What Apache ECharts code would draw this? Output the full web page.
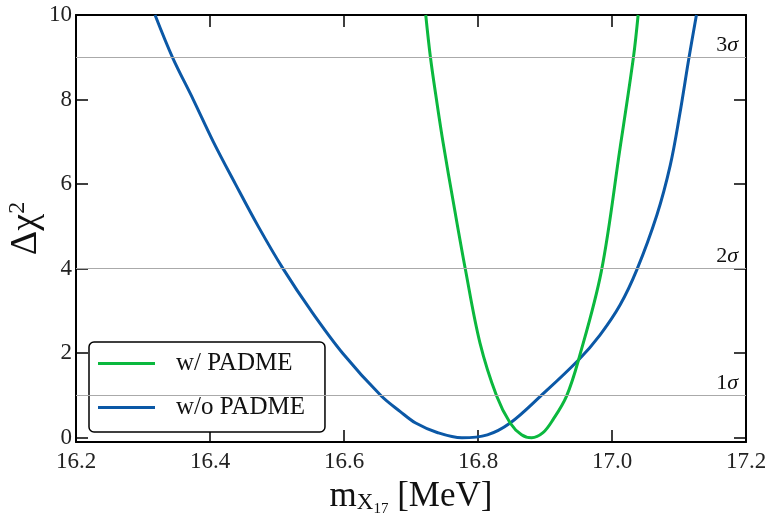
<!DOCTYPE html>
<html>
<head>
<meta charset="utf-8">
<script src="https://cdn.jsdelivr.net/npm/echarts@6/dist/echarts.min.js"></script>
<style>
html,body{margin:0;padding:0;background:#fff;}
#chart{width:773px;height:523px;}
</style>
</head>
<body>
<div id="chart"></div>
<script>
// 数据：Δχ² 曲线
var seriesNames = ['w/ PADME', 'w/o PADME'];
var greenX = [16.722,16.729,16.738,16.748,16.764,16.781,16.803,16.828,16.848,16.865,16.880,16.897,16.912,16.932,16.950,16.984,17.012,17.032,17.039];
var greenY = [10,9,8,6.97,5.5,4,2.24,0.98,0.35,0.07,0,0.12,0.43,0.98,1.84,3.93,6.85,9,10];
var blueX = [16.318,16.344,16.375,16.405,16.438,16.472,16.509,16.551,16.598,16.655,16.684,16.707,16.740,16.776,16.814,16.848,16.893,16.950,16.982,17.012,17.037,17.067,17.087,17.101,17.115,17.126];
var blueY = [10,9,8,7,6,5,4,3,2,1,0.62,0.35,0.12,0,0.07,0.35,0.98,1.84,2.43,3.14,3.97,5.27,6.45,7.64,9,10];
var xTicks = [16.2,16.4,16.6,16.8,17.0,17.2];
var yTicks = [0,2,4,6,8,10];
var sigmaLevels = [1,4,9];
var sigmaLabels = ['1','2','3'];

var FONT = 'Liberation Serif';

function pairs(xs, ys){
	var out = [];
	for (var i = 0; i < xs.length; i++) out.push([xs[i], ys[i]]);
	return out;
}

// 坐标轴通用设置，args:[位置, 是否显示标签]
function xAxisOf(pos, labels){
	return {
		type:'value', position:pos, min:16.2, max:17.2,
		axisLine:{show:true, onZero:false, lineStyle:{color:'#000', width:2}},
		axisTick:{show:true, inside:true, length:12, customValues:xTicks, lineStyle:{color:'#000', width:1.5}},
		axisLabel:{show:labels, customValues:xTicks, margin:8, fontFamily:FONT, fontSize:23, color:'#222',
			formatter:function(v){ return v.toFixed(1); }},
		splitLine:{show:false}
	};
}
function yAxisOf(pos, labels){
	return {
		type:'value', position:pos, min:-0.1, max:10,
		axisLine:{show:true, onZero:false, lineStyle:{color:'#000', width:2}},
		axisTick:{show:true, inside:true, length:12, customValues:yTicks, lineStyle:{color:'#000', width:1.5}},
		axisLabel:{show:labels, customValues:yTicks, margin:4, fontFamily:FONT, fontSize:23, color:'#222'},
		splitLine:{show:false}
	};
}

var xMain = xAxisOf('bottom', true);
xMain.name = '{m|m}{s|X}{ss|17}{m| [MeV]}';
xMain.nameLocation = 'middle';
xMain.nameGap = 34;
xMain.nameMoveOverlap = false;
xMain.nameTextStyle = {
	fontFamily:FONT, color:'#111',
	rich:{
		m:{fontFamily:FONT, fontSize:35, color:'#111'},
		s:{fontFamily:FONT, fontSize:23, color:'#111', verticalAlign:'top', padding:[15,0,0,0]},
		ss:{fontFamily:FONT, fontSize:15, color:'#111', verticalAlign:'top', padding:[26,0,0,0]}
	}
};
var yMain = yAxisOf('left', true);
yMain.name = '{m|Δχ}{s|2}';
yMain.nameLocation = 'middle';
yMain.nameRotate = 90;
yMain.nameGap = 30;
yMain.nameMoveOverlap = false;
yMain.nameTextStyle = {
	fontFamily:FONT, color:'#111',
	rich:{
		m:{fontFamily:FONT, fontSize:38, color:'#111'},
		s:{fontFamily:FONT, fontSize:24, color:'#111', verticalAlign:'top', padding:[0,0,16,0]}
	}
};

var sigmaData = [];
for (var i = 0; i < sigmaLevels.length; i++) {
	sigmaData.push({yAxis:sigmaLevels[i], label:{formatter:'{n|' + sigmaLabels[i] + '}{g|σ}'}});
}

var options = {
	animation:false,
	backgroundColor:'#fff',
	grid:{left:76, right:27, top:15, bottom:81, containLabel:false, outerBoundsMode:'none'},
	xAxis:[xMain, xAxisOf('top', false)],
	yAxis:[yMain, yAxisOf('right', false)],
	legend:{
		left:89, top:342, orient:'vertical',
		padding:[9,20,12,9],
		itemGap:19, itemWidth:57, itemHeight:3, icon:'rect',
		borderColor:'#000', borderWidth:1.5, borderRadius:5, backgroundColor:'#fff',
		textStyle:{fontFamily:FONT, fontSize:25, color:'#111', padding:[0,0,0,16], lineHeight:22},
		data:seriesNames
	},
	series:[
		{
			name:seriesNames[1], type:'line', data:pairs(blueX, blueY),
			smooth:0.35, symbol:'none', clip:true,
			lineStyle:{color:'#0b58a6', width:3}, itemStyle:{color:'#0b58a6'},
			markLine:{
				silent:true, symbol:'none', animation:false,
				lineStyle:{color:'#aaa', width:1.2, type:'solid'},
				label:{position:'insideEndTop', distance:[8,1],
					rich:{
						n:{fontFamily:FONT, fontSize:22, color:'#111'},
						g:{fontFamily:FONT, fontSize:22, fontStyle:'italic', color:'#111'}
					}},
				data:sigmaData
			},
			z:3
		},
		{
			name:seriesNames[0], type:'line', data:pairs(greenX, greenY),
			smooth:0.35, symbol:'none', clip:true,
			lineStyle:{color:'#0bb83e', width:3}, itemStyle:{color:'#0bb83e'},
			z:4
		}
	]
};

var Chart = echarts.init(document.getElementById('chart'));
Chart.setOption(options);
</script>
</body>
</html>
